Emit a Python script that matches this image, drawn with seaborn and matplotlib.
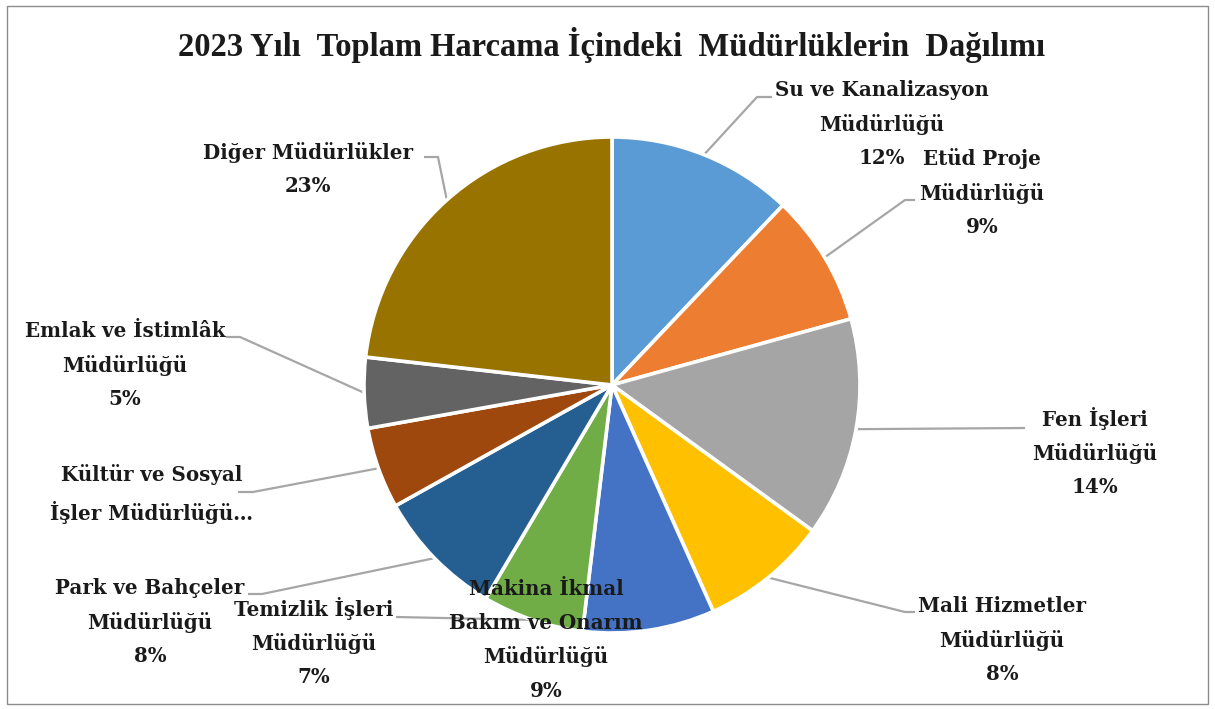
import matplotlib
matplotlib.use("Agg")
import math
import matplotlib.pyplot as plt
import seaborn as sns
from matplotlib.patches import Rectangle

# ---------------- data ----------------
categories = [
    "Su ve Kanalizasyon Müdürlüğü",
    "Etüd Proje Müdürlüğü",
    "Fen İşleri Müdürlüğü",
    "Mali Hizmetler Müdürlüğü",
    "Makina İkmal Bakım ve Onarım Müdürlüğü",
    "Temizlik İşleri Müdürlüğü",
    "Park ve Bahçeler Müdürlüğü",
    "Kültür ve Sosyal İşler Müdürlüğü",
    "Emlak ve İstimlâk Müdürlüğü",
    "Diğer Müdürlükler",
]
shares = [12.1, 8.6, 14.3, 8.3, 8.6, 6.6, 8.4, 5.3, 4.6, 23.2]
label_names = [
    "Su ve Kanalizasyon\nMüdürlüğü",
    "Etüd Proje\nMüdürlüğü",
    "Fen İşleri\nMüdürlüğü",
    "Mali Hizmetler\nMüdürlüğü",
    "Makina İkmal\nBakım ve Onarım\nMüdürlüğü",
    "Temizlik İşleri\nMüdürlüğü",
    "Park ve Bahçeler\nMüdürlüğü",
    "Kültür ve Sosyal\nİşler Müdürlüğü…",
    "Emlak ve İstimlâk\nMüdürlüğü",
    "Diğer Müdürlükler",
]
show_percent = [True, True, True, True, True, True, True, False, True, True]
title = "2023 Yılı  Toplam Harcama İçindeki  Müdürlüklerin  Dağılımı"

# ---------------- layout (pixel coords, y downward) ----------------
W, H = 1215, 709
pie_center = (612, 385)
pie_radius = 248
label_pos = [(882, 124), (982, 193), (1095, 452), (1002, 640), (546, 640),
             (314, 642), (150, 622), (152, 494), (125, 365), (308, 169)]
leader_elbow = [(757, 97), (905, 200), (1025, 428), (905, 612), None,
                (396, 617), (262, 594), (253, 492), (240, 337), (438, 157)]
leader_end = [(772, 97), (915, 200), (1025, 428), (915, 612), None,
              (396, 617), (248, 594), (238, 492), (226, 337), (424, 157)]

colors = ["#5B9BD5", "#ED7D31", "#A5A5A5", "#FFC000", "#4472C4",
          "#70AD47", "#255E91", "#9E480E", "#636363", "#997300"]

sns.set_theme(style="white")
palette = sns.color_palette(colors)
plt.rcParams["font.family"] = ["DejaVu Serif"]

fig = plt.figure(figsize=(W / 100, H / 100), dpi=100)
ax = fig.add_axes([0, 0, 1, 1])
ax.set_xlim(0, W)
ax.set_ylim(0, H)
ax.set_aspect("equal")
ax.axis("off")

wedges, _ = ax.pie(shares, colors=palette, startangle=90, counterclock=False,
                   center=(pie_center[0], H - pie_center[1]), radius=pie_radius,
                   wedgeprops=dict(edgecolor="white", linewidth=2.6))
ax.set_xlim(0, W)
ax.set_ylim(0, H)

for i, w in enumerate(wedges):
    mid = math.radians((w.theta1 + w.theta2) / 2)
    sx = pie_center[0] + pie_radius * math.cos(mid)
    sy = H - pie_center[1] + pie_radius * math.sin(mid)
    if leader_elbow[i] is not None:
        ex, ey = leader_elbow[i]
        fx, fy = leader_end[i]
        ax.plot([sx, ex, fx], [sy, H - ey, H - fy], color="#A6A6A6", lw=1.6,
                zorder=0.5, solid_capstyle="butt")
    txt = label_names[i]
    if show_percent[i]:
        txt += f"\n{shares[i]:.0f}%"
    lx, ly = label_pos[i]
    ax.text(lx, H - ly, txt, ha="center", va="center", multialignment="center",
            fontsize=14.3, fontweight="bold", color="#1a1a1a", linespacing=1.82,
            zorder=5)

fig.text(612 / W, 1 - 45 / H, title, ha="center", va="center",
         family=["Liberation Serif"], fontsize=23.5, fontweight="bold",
         color="#1a1a1a")

fig.patches.append(Rectangle((7 / W, 5 / H), 1201 / W, 698 / H,
                             transform=fig.transFigure, fill=False,
                             edgecolor="#8C8C8C", linewidth=1.0))

fig.savefig("out.png", dpi=100)
